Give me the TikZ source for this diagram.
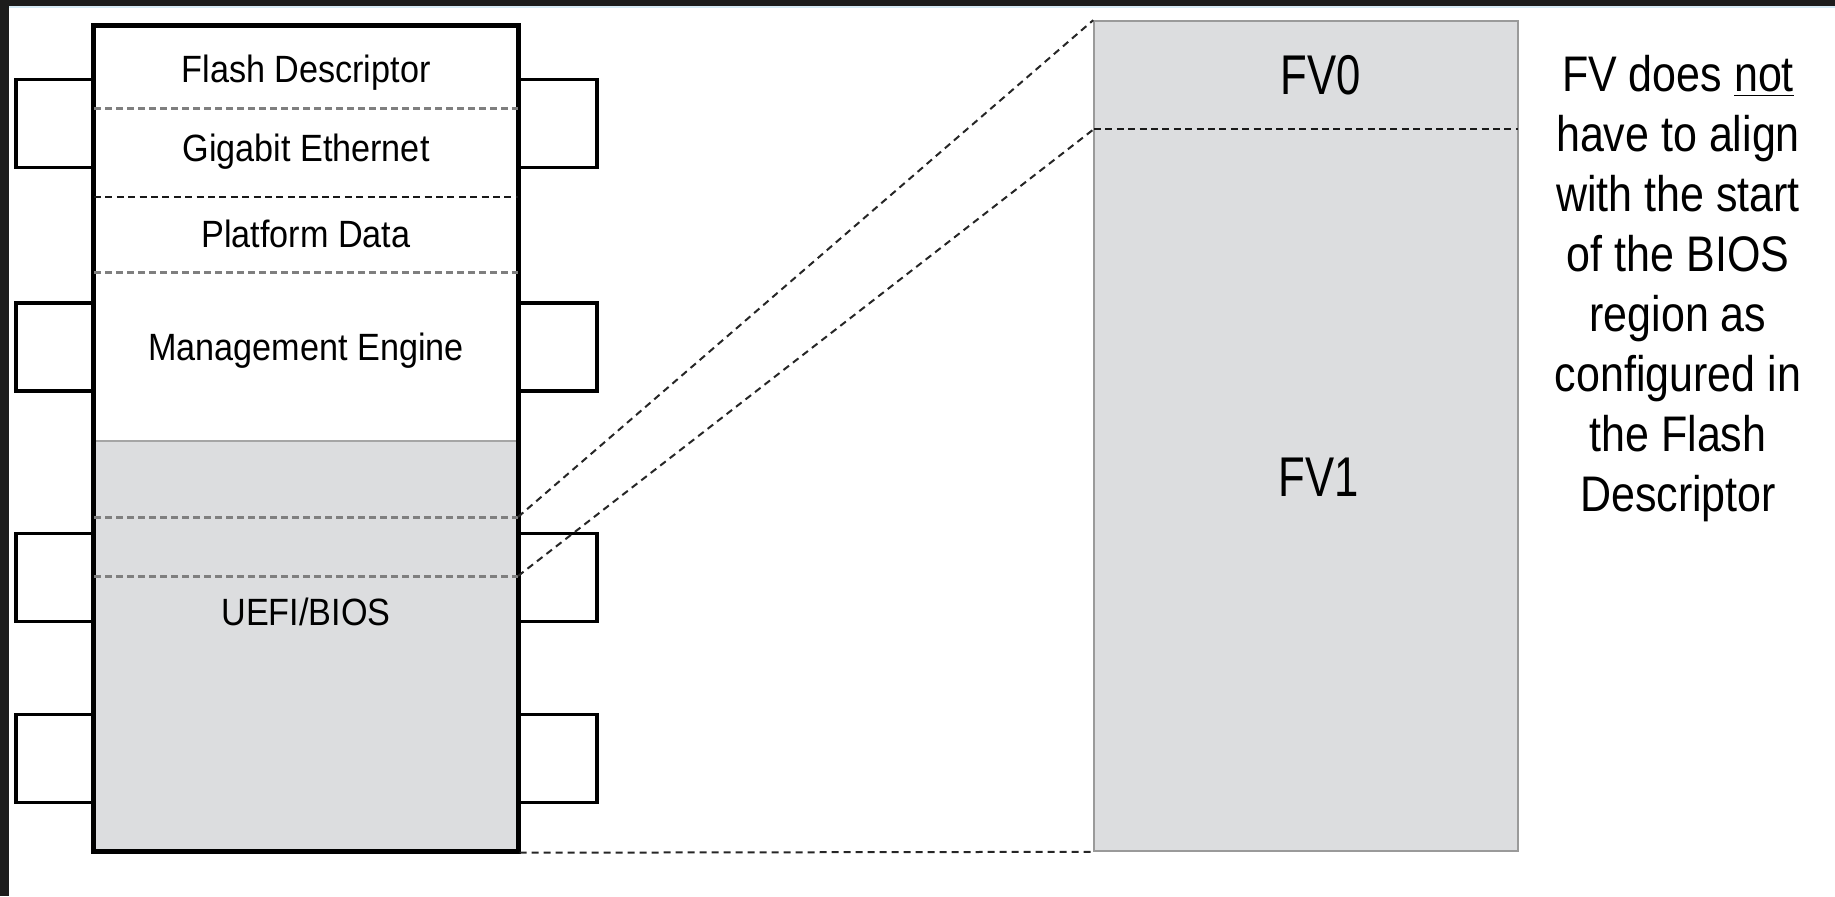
\documentclass[tikz,border=0pt]{standalone}
\usepackage{fontspec}
\setmainfont{Liberation Sans}
\newfontfamily\labelfont{Liberation Sans}[FakeStretch=0.9]
\newfontfamily\narrowfont{Liberation Sans}[FakeStretch=0.78]
\newfontfamily\notefont{Liberation Sans}[FakeStretch=0.86]
\definecolor{regiongray}{HTML}{DCDDDF}
\definecolor{sepgray}{HTML}{7F7F7F}
\definecolor{boxedge}{HTML}{9A9A9A}
\definecolor{frame}{HTML}{1C1C1C}
\definecolor{frameedge}{HTML}{D6EAF5}
\begin{document}
\begin{tikzpicture}[x=0.5pt,y=-0.5pt,
  pin/.style={draw=black,line width=1.7pt,fill=white,rectangle,inner sep=0pt,
    minimum width=39pt,minimum height=44pt},
  chipbody/.style={draw=black,line width=1.7pt,rectangle,inner sep=0pt,
    minimum width=212pt,minimum height=412.5pt},
  chiplabel/.style={inner sep=0pt,font=\fontsize{19}{22}\selectfont\labelfont},
  fvlabel/.style={inner sep=0pt,font=\fontsize{28}{32}\selectfont\narrowfont},
  graysep/.style={draw=sepgray,line width=1.5pt,dash pattern=on 3.5pt off 2pt},
  blacksep/.style={draw=black!90,line width=1pt,dash pattern=on 3.5pt off 2.2pt},
  zoomline/.style={draw=black!85,line width=1pt,dash pattern=on 3.5pt off 2.5pt}]
  \useasboundingbox (0,0) rectangle (1835,896);
  % dark slide frame on the left and top
  \fill[frameedge] (0,6) rectangle (1835,8);
  \fill[frame] (0,0) rectangle (9,896);
  \fill[frame] (0,0) rectangle (1835,6);

  % pins of the flash chip
  \foreach \i/\y in {1/123.5,2/347,3/577.5,4/758.5}{
    \node[pin] (lp\i) at (55,\y) {};
    \node[pin] (rp\i) at (558,\y) {};
  }

  % chip body: white upper regions, gray BIOS region
  \fill[white] (94,26) rectangle (518,441);
  \fill[regiongray] (94,441) rectangle (518,851);
  \draw[sepgray!70,line width=0.6pt] (94,441) -- (518,441);
  \node[chipbody] (chip) at (306,438.5) {};

  % region boundaries inside the chip
  \coordinate (s1l) at (94,108);  \coordinate (s1r) at (518,108);
  \coordinate (s2l) at (94,197);  \coordinate (s2r) at (518,197);
  \coordinate (s3l) at (94,272);  \coordinate (s3r) at (518,272);
  \coordinate (s4l) at (94,517);  \coordinate (s4r) at (518,517);
  \coordinate (s5l) at (94,576);  \coordinate (s5r) at (518,576);
  \draw[graysep] (s1l) -- (s1r);
  \draw[blacksep] (s2l) -- (s2r);
  \draw[graysep] (s3l) -- (s3r);
  \draw[graysep] (s4l) -- (s4r);
  \draw[graysep] (s5l) -- (s5r);
  \draw[line width=1.7pt] (chip.north west) rectangle (chip.south east);

  % region names
  \node[chiplabel] (fd)   at (306,73)  {Flash Descriptor};
  \node[chiplabel] (gbe)  at (306,152) {Gigabit Ethernet};
  \node[chiplabel] (pd)   at (306,234) {Platform Data};
  \node[chiplabel] (me)   at (306,351) {Management Engine};
  \node[chiplabel] (bios) at (306,612) {UEFI/BIOS};

  % expanded view of the BIOS region
  \node[draw=boxedge,fill=regiongray,line width=0.8pt,rectangle,inner sep=0pt,
    minimum width=212pt,minimum height=415pt] (fv) at (1306,436) {};
  \coordinate (fvsl) at (1094,129);
  \coordinate (fvsr) at (1518,129);
  \draw[blacksep] (fvsl) -- (fvsr);
  \node[fvlabel] (fv0) at (1321,75)  {FV0};
  \node[fvlabel] (fv1) at (1319,477) {FV1};

  % zoom connectors
  \draw[zoomline] (s4r) -- (fv.north west);
  \draw[zoomline] (s5r) -- (fvsl);
  \draw[zoomline] (chip.south east) -- (fv.south west);

  % note
  \node[inner sep=0pt,anchor=north,align=center,
    font=\fontsize{25}{30}\selectfont\notefont] (note) at (1678,55)
    {FV does \underline{not}\\have to align\\with the start\\of the BIOS\\region as\\configured in\\the Flash\\Descriptor};
\end{tikzpicture}
\end{document}
